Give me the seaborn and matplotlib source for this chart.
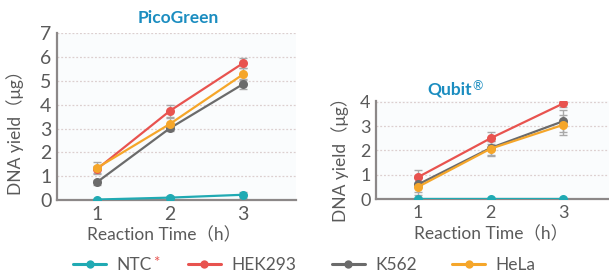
import numpy as np
import pandas as pd
import matplotlib
matplotlib.use("Agg")
import matplotlib.pyplot as plt
from matplotlib.lines import Line2D
import seaborn as sns

# ---- data ----
times = [1, 2, 3]
samples = ["NTC", "HEK293", "K562", "HeLa"]
colors = ["#20aab3", "#e8534f", "#6b6b6b", "#f5a62a"]

pico_ntc = [0.02, 0.10, 0.22]
pico_hek = [1.30, 3.75, 5.75]
pico_k562 = [0.75, 3.02, 4.87]
pico_hela = [1.35, 3.20, 5.28]
pico_err_ntc = [0.03, 0.05, 0.12]
pico_err_hek = [0.15, 0.25, 0.20]
pico_err_k562 = [0.10, 0.10, 0.20]
pico_err_hela = [0.25, 0.25, 0.25]

qubit_ntc = [0.02, 0.02, 0.02]
qubit_hek = [0.90, 2.50, 3.93]
qubit_k562 = [0.60, 2.10, 3.20]
qubit_hela = [0.50, 2.07, 3.05]
qubit_err_ntc = [0.02, 0.02, 0.02]
qubit_err_hek = [0.30, 0.25, 0.15]
qubit_err_k562 = [0.30, 0.30, 0.45]
qubit_err_hela = [0.35, 0.30, 0.40]

sns.set_theme(style="white")
plt.rcParams["font.family"] = ["Lato", "Noto Sans CJK JP", "DejaVu Sans"]

def long_df(vals, errs):
    rows = []
    for s, v, e in zip(samples, vals, errs):
        for t, y, er in zip(times, v, e):
            rows.append({"time": t, "yield": y, "err": er, "sample": s})
    return pd.DataFrame(rows)

df_pico = long_df([pico_ntc, pico_hek, pico_k562, pico_hela],
                  [pico_err_ntc, pico_err_hek, pico_err_k562, pico_err_hela])
df_qubit = long_df([qubit_ntc, qubit_hek, qubit_k562, qubit_hela],
                   [qubit_err_ntc, qubit_err_hek, qubit_err_k562, qubit_err_hela])

fig = plt.figure(figsize=(6.09, 2.74), dpi=100)
ax1 = fig.add_axes([57/609, 74/274, 239/609, 167/274])
ax2 = fig.add_axes([376/609, 75/274, 233/609, 98/274])

palette = dict(zip(samples, colors))
tick_col = "#5a5a5a"
spine_col = "#8c8888"

def draw(ax, df, ymax, xlim, ylim, tsize):
    ax.set_facecolor("#fafcfd")
    for s in samples:
        sub = df[df["sample"] == s]
        ax.errorbar(sub["time"], sub["yield"], yerr=sub["err"], fmt="none",
                    ecolor="#a9a9a9", elinewidth=1.0, capsize=3, capthick=1.0, zorder=2)
    sns.lineplot(data=df, x="time", y="yield", hue="sample", hue_order=samples,
                 palette=palette, marker="o", markersize=6.5, markeredgewidth=0,
                 linewidth=1.6, legend=False, ax=ax, zorder=3)
    ax.set_xlim(*xlim)
    ax.set_ylim(*ylim)
    ax.set_xticks(times)
    ax.set_yticks(range(0, ymax + 1))
    ax.yaxis.grid(True, linestyle=(0, (1.5, 1.5)), color="#dccfcf", linewidth=0.9)
    ax.xaxis.grid(False)
    for sp in ["top", "right"]:
        ax.spines[sp].set_visible(False)
    for sp in ["left", "bottom"]:
        ax.spines[sp].set_color(spine_col)
        ax.spines[sp].set_linewidth(1.6)
    ax.tick_params(axis="both", length=0, labelsize=tsize, colors=tick_col, pad=4)
    ax.set_xlabel("Reaction Time（h）", fontsize=12.5, color=tick_col)
    ax.set_ylabel("DNA yield（μg）", fontsize=12.5, color=tick_col)

draw(ax1, df_pico, 7, (0.452, 3.726), (0, 7.02), 14)
draw(ax2, df_qubit, 4, (0.42, 3.63), (0, 4.03), 13)

# label positions (axes coords)
ax1.xaxis.set_label_coords((2 - 0.452) / (3.726 - 0.452) - 0.025, -0.16)
ax1.yaxis.set_label_coords(-0.14, 0.43)
ax2.xaxis.set_label_coords((2 - 0.42) / (3.63 - 0.42), -0.27)
ax2.yaxis.set_label_coords(-0.115, 0.45)

title_col = "#1b8dc0"
fig.text(178/609, 1 - 18/274, "PicoGreen", ha="center", va="center",
         fontsize=12.5, fontweight="bold", color=title_col)
qt = fig.text(450/609, 1 - 90/274, "Qubit", ha="center", va="center",
              fontsize=12.5, fontweight="bold", color=title_col)

handles = [Line2D([0], [0], color=c, marker="o", markersize=6, markeredgewidth=0,
                  linewidth=2.2) for c in colors]
leg = fig.legend(handles, samples, loc="center", bbox_to_anchor=(0.5, 1 - 265/274),
                 ncol=4, frameon=False, fontsize=12.5, handlelength=1.9,
                 columnspacing=2.05, handletextpad=0.6)
for t in leg.get_texts():
    t.set_color(tick_col)

fig.canvas.draw()
r = fig.canvas.get_renderer()
bb = leg.get_texts()[0].get_window_extent(r)
fig.text((bb.x1 + 1) / 609, (bb.y1 + 1) / 274, "*", color="#e8534f",
         fontsize=11, ha="left", va="top")
qb = qt.get_window_extent(r)
fig.text((qb.x1 + 0.5) / 609, (qb.y1 + 2) / 274, "®", color=title_col,
         fontsize=9, ha="left", va="top")

fig.savefig("out.png", dpi=100)
